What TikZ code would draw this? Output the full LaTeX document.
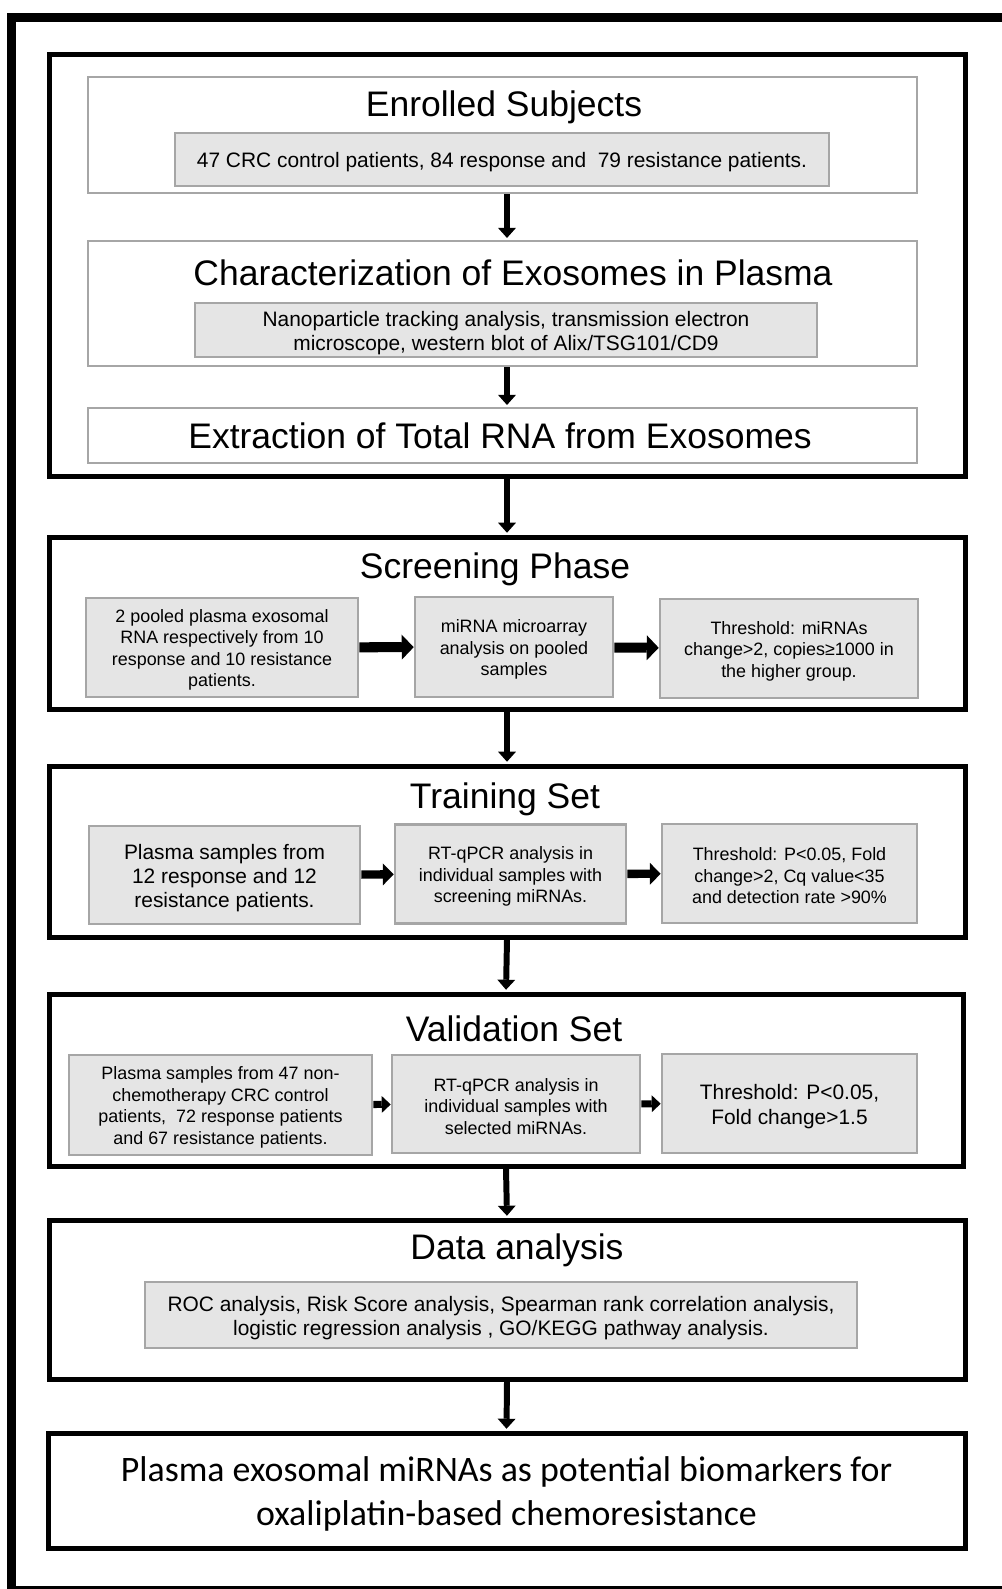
\documentclass[tikz,border=0pt]{standalone}
\usepackage{fontspec}
\setmainfont{Liberation Sans}
\newfontfamily\calibrifont{Carlito}
\usetikzlibrary{arrows.meta, positioning}
\definecolor{boxgray}{RGB}{229,229,229}
\definecolor{rulegray}{RGB}{166,166,166}
\newdimen\pxu
\pxu=0.02cm
\newcommand\liftline[1][1em]{\rule{0pt}{#1}}

\begin{document}
\begin{tikzpicture}[x=0.02cm, y=-0.02cm]
    % Styles
    \tikzstyle{stage}=[draw, line width=5\pxu, inner sep=0pt]
    \tikzstyle{panel}=[draw=rulegray, line width=2.6\pxu, inner sep=0pt]
    \tikzstyle{detail}=[draw=rulegray, fill=boxgray, line width=2.6\pxu, align=center, inner sep=0pt]
    \tikzstyle{heading}=[anchor=base, inner sep=0pt, font=\fontsize{20.2}{24}\selectfont]
    \tikzstyle{txtmid}=[font=\fontsize{11.9}{13.8}\selectfont]
    \tikzstyle{txtsmall}=[font=\fontsize{10.2}{12.2}\selectfont]
    \tikzstyle{txtbig}=[font=\fontsize{11.9}{13.7}\selectfont]
    \tikzstyle{downarrow}=[line width=3.4pt, -{Triangle[width=10.2pt, length=5.7pt, line width=0pt]}, shorten >=1pt]
    \tikzstyle{scrarrow}=[line width=5.7pt, -{Triangle[width=14.2pt, length=6.8pt, line width=0pt]}]
    \tikzstyle{trnarrow}=[line width=4.8pt, -{Triangle[width=12.5pt, length=6.2pt, line width=0pt]}]
    \tikzstyle{valarrow}=[line width=4pt, -{Triangle[width=9.6pt, length=5.1pt, line width=0pt]}]

    \useasboundingbox (0,0) rectangle (1001,1589);

    % Outer frame
    \draw[line width=9\pxu] (11.5,17.5) rectangle (1012,1590);

    % Preparation
    \node[stage, minimum width=916\pxu, minimum height=422\pxu] (prep) at (507,265) {};
    \node[panel, minimum width=829\pxu, minimum height=116\pxu] (enr) at (502.5,135) {};
    \node[heading] (enrtitle) at (504,116) {Enrolled Subjects};
    \node[detail, txtmid, minimum width=654\pxu, minimum height=53\pxu] (enrdet) at (502,159.5)
        {\liftline 47 CRC control patients, 84 response and \ 79 resistance patients.};
    \node[panel, minimum width=829\pxu, minimum height=125\pxu] (chr) at (502.5,303.5) {};
    \node[heading] (chrtitle) at (513,285) {Characterization of Exosomes in Plasma};
    \node[detail, txtmid, minimum width=622\pxu, minimum height=54\pxu] (chrdet) at (506,330)
        {\liftline Nanoparticle tracking analysis, transmission electron\\microscope, western blot of Alix/TSG101/CD9};
    \node[panel, minimum width=829\pxu, minimum height=55\pxu] (ext) at (502.5,435.5) {};
    \node[heading] (exttitle) at (500,448) {Extraction of Total RNA from Exosomes};

    % Screening
    \node[stage, minimum width=916\pxu, minimum height=172\pxu] (scr) at (507,623) {};
    \node[heading] (scrtitle) at (495,578) {Screening Phase};
    \node[detail, txtsmall, minimum width=272\pxu, minimum height=99\pxu] (scra) at (222,647.5)
        {\liftline 2 pooled plasma exosomal\\RNA respectively from 10\\response and 10 resistance\\patients.};
    \node[detail, txtsmall, minimum width=198\pxu, minimum height=100\pxu] (scrb) at (514,647)
        {\liftline miRNA microarray\\analysis on pooled\\samples};
    \node[detail, txtsmall, minimum width=258\pxu, minimum height=99\pxu] (scrc) at (789,648.5)
        {\liftline Threshold: miRNAs\\change>2, copies≥1000 in\\the higher group.};

    % Training
    \node[stage, minimum width=916\pxu, minimum height=171\pxu] (trn) at (507,851.5) {};
    \node[heading] (trntitle) at (505,808) {Training Set};
    \node[detail, txtbig, minimum width=271\pxu, minimum height=98\pxu] (trna) at (224.5,875)
        {\liftline Plasma samples from\\12 response and 12\\resistance patients.};
    \node[detail, txtsmall, minimum width=231\pxu, minimum height=99\pxu] (trnb) at (510.5,874)
        {\liftline RT-qPCR analysis in\\individual samples with\\screening miRNAs.};
    \node[detail, txtsmall, minimum width=255\pxu, minimum height=99\pxu] (trnc) at (789.5,873.5)
        {\liftline Threshold: P<0.05, Fold\\change>2, Cq value<35\\and detection rate >90\%};

    % Validation
    \node[stage, minimum width=914\pxu, minimum height=172\pxu] (val) at (506,1080) {};
    \node[heading] (valtitle) at (514,1041) {Validation Set};
    \node[detail, txtsmall, minimum width=303\pxu, minimum height=100\pxu] (vala) at (220.5,1105)
        {\liftline Plasma samples from 47 non-\\chemotherapy CRC control\\patients, \ 72 response patients\\and 67 resistance patients.};
    \node[detail, txtsmall, minimum width=248\pxu, minimum height=98\pxu] (valb) at (516,1104)
        {\liftline RT-qPCR analysis in\\individual samples with\\selected miRNAs.};
    \node[detail, font=\fontsize{11.9}{14.2}\selectfont, minimum width=255\pxu, minimum height=99\pxu] (valc) at (789.5,1103.5)
        {\liftline Threshold: P<0.05,\\Fold change>1.5};

    % Data analysis
    \node[stage, minimum width=916\pxu, minimum height=159\pxu] (dat) at (507,1299.5) {};
    \node[heading] (dattitle) at (517,1259) {Data analysis};
    \node[detail, txtmid, minimum width=712\pxu, minimum height=66\pxu] (datdet) at (501,1315)
        {\liftline ROC analysis, Risk Score analysis, Spearman rank correlation analysis,\\logistic regression analysis , GO/KEGG pathway analysis.};

    % Outcome
    \node[stage, align=center, font=\calibrifont\fontsize{20.4}{24.9}\selectfont, minimum width=917\pxu, minimum height=115\pxu] (fin) at (506.5,1490.5)
        {\liftline[0.9em]Plasma exosomal miRNAs as potential biomarkers for\\oxaliplatin-based chemoresistance};

    % Arrows
    \draw[downarrow] (enr.south -| prep.north) -- (chr.north -| prep.north);
    \draw[downarrow] (chr.south -| prep.north) -- (ext.north -| prep.north);
    \draw[downarrow] (prep.south) -- (scr.north);
    \draw[downarrow] (scr.south) -- (trn.north);
    \draw[downarrow] (trn.south) -- (val.north);
    \draw[downarrow] (val.south) -- (dat.north);
    \draw[downarrow] (dat.south) -- (fin.north);
    \draw[scrarrow] (scra) -- (scrb);
    \draw[scrarrow] (scrb) -- (scrc);
    \draw[trnarrow] (trna) -- (trnb);
    \draw[trnarrow] (trnb) -- (trnc);
    \draw[valarrow] (vala) -- (valb);
    \draw[valarrow] (valb) -- (valc);
\end{tikzpicture}
\end{document}
